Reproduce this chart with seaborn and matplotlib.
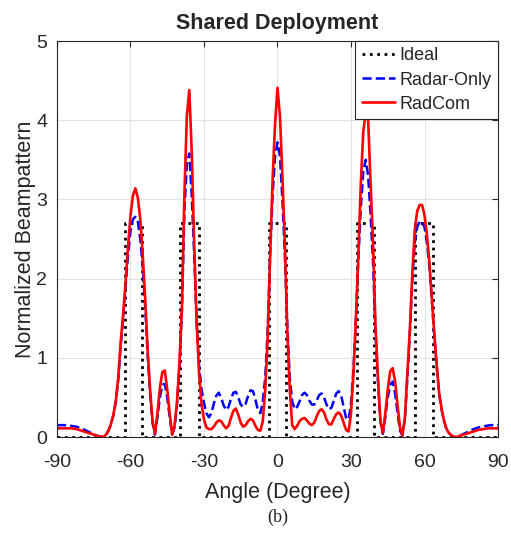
import numpy as np
import pandas as pd
import matplotlib
matplotlib.use('Agg')
import matplotlib.pyplot as plt
import seaborn as sns

# angle grid, 1 degree steps
angle = np.arange(-90, 91)

radcom = [
    0.11, 0.11, 0.11, 0.11, 0.11, 0.11, 0.11, 0.105, 0.10, 0.09,   # -90..-81
    0.08, 0.07, 0.06, 0.05, 0.04, 0.03, 0.02, 0.01, 0.005, 0.0,    # -80..-71
    0.03, 0.08, 0.16, 0.28, 0.45, 0.75, 1.2, 1.55, 1.95, 2.4,      # -70..-61
    2.8, 3.05, 3.14, 3.02, 2.75, 2.3, 1.75, 1.1, 0.6, 0.2,         # -60..-51
    0.04, 0.3, 0.62, 0.82, 0.84, 0.6, 0.3, 0.03, 0.15, 0.45,       # -50..-41
    0.95, 1.65, 3.05, 4.05, 4.38, 3.6, 2.45, 1.45, 0.8, 0.42,      # -40..-31
    0.22, 0.12, 0.10, 0.10, 0.13, 0.18, 0.21, 0.20, 0.15, 0.11,    # -30..-21
    0.14, 0.24, 0.33, 0.36, 0.28, 0.18, 0.13, 0.15, 0.20, 0.23,    # -20..-11
    0.21, 0.14, 0.09, 0.08, 0.2, 0.6, 1.25, 2.3, 3.25, 3.95,       # -10..-1
    4.41, 4.05, 3.3, 2.45, 1.35, 0.6, 0.15, 0.10, 0.14, 0.20,      # 0..9
    0.23, 0.24, 0.21, 0.17, 0.15, 0.18, 0.26, 0.33, 0.35, 0.31,    # 10..19
    0.22, 0.16, 0.16, 0.23, 0.29, 0.31, 0.27, 0.18, 0.09, 0.07,    # 20..29
    0.3, 0.8, 1.5, 2.3, 3.2, 3.85, 4.1, 4.0, 3.2, 2.45,            # 30..39
    1.4, 0.75, 0.2, 0.05, 0.3, 0.6, 0.83, 0.87, 0.7, 0.4,          # 40..49
    0.12, 0.02, 0.25, 0.8, 1.35, 2.05, 2.6, 2.85, 2.93, 2.93,      # 50..59
    2.8, 2.55, 2.2, 1.75, 1.3, 0.9, 0.55, 0.35, 0.2, 0.1,          # 60..69
    0.05, 0.02, 0.0, 0.0, 0.01, 0.02, 0.03, 0.04, 0.05, 0.06,      # 70..79
    0.07, 0.08, 0.09, 0.095, 0.10, 0.105, 0.11, 0.11, 0.11, 0.11,  # 80..89
    0.11,                                                          # 90
]

radar_only = [
    0.15, 0.15, 0.15, 0.15, 0.15, 0.145, 0.14, 0.135, 0.13, 0.12,  # -90..-81
    0.11, 0.095, 0.08, 0.065, 0.05, 0.035, 0.02, 0.01, 0.005, 0.0, # -80..-71
    0.03, 0.08, 0.16, 0.27, 0.44, 0.72, 1.15, 1.5, 1.9, 2.3,       # -70..-61
    2.6, 2.75, 2.78, 2.72, 2.5, 2.15, 1.65, 1.05, 0.55, 0.18,      # -60..-51
    0.03, 0.25, 0.5, 0.66, 0.67, 0.5, 0.25, 0.03, 0.12, 0.42,      # -50..-41
    0.9, 1.6, 2.85, 3.45, 3.58, 3.05, 2.3, 1.45, 0.9, 0.6,         # -40..-31
    0.43, 0.3, 0.25, 0.3, 0.42, 0.52, 0.56, 0.5, 0.4, 0.34,        # -30..-21
    0.38, 0.48, 0.56, 0.57, 0.5, 0.41, 0.38, 0.42, 0.52, 0.59,     # -20..-11
    0.58, 0.47, 0.34, 0.30, 0.45, 0.75, 1.35, 2.3, 3.05, 3.55,     # -10..-1
    3.72, 3.55, 3.0, 2.3, 1.4, 0.75, 0.45, 0.35, 0.38, 0.45,       # 0..9
    0.53, 0.56, 0.53, 0.46, 0.41, 0.41, 0.46, 0.53, 0.55, 0.5,     # 10..19
    0.41, 0.35, 0.37, 0.46, 0.55, 0.58, 0.52, 0.38, 0.24, 0.22,    # 20..29
    0.42, 0.85, 1.5, 2.25, 2.9, 3.35, 3.5, 3.3, 2.8, 2.2,          # 30..39
    1.3, 0.7, 0.2, 0.04, 0.25, 0.5, 0.66, 0.7, 0.55, 0.3,          # 40..49
    0.08, 0.02, 0.23, 0.75, 1.3, 1.95, 2.45, 2.65, 2.72, 2.72,     # 50..59
    2.65, 2.45, 2.15, 1.72, 1.28, 0.88, 0.54, 0.34, 0.2, 0.1,      # 60..69
    0.05, 0.02, 0.0, 0.0, 0.01, 0.025, 0.04, 0.055, 0.07, 0.085,   # 70..79
    0.10, 0.11, 0.12, 0.13, 0.135, 0.14, 0.145, 0.15, 0.15, 0.15,  # 80..89
    0.15,                                                          # 90
]

# ideal beampattern: flat boxes over the target sectors
ideal_lo = [-62.4, -39.7, -3.4, 32.4, 56.2]
ideal_hi = [-55.1, -32.2, 3.4, 39.2, 63.4]
ideal_level = 2.7

ideal_x, ideal_y = [-90], [0]
for lo, hi in zip(ideal_lo, ideal_hi):
    ideal_x += [lo, lo, hi, hi]
    ideal_y += [0, ideal_level, ideal_level, 0]
ideal_x.append(90)
ideal_y.append(0)

sns.set_style('white')
plt.rcParams['font.family'] = ['Liberation Sans', 'DejaVu Sans']
plt.rcParams['axes.unicode_minus'] = False

fig = plt.figure(figsize=(5.11, 5.34), dpi=100)
ax = fig.add_axes([0.1115, 0.1816, 0.8631, 0.7416])

sns.lineplot(x=ideal_x, y=ideal_y, ax=ax, color='black', linestyle=':',
             linewidth=2.0, sort=False, estimator=None, label='Ideal')
sns.lineplot(x=angle, y=radar_only, ax=ax, color='blue', linestyle='--',
             linewidth=1.8, sort=False, estimator=None, label='Radar-Only')
sns.lineplot(x=angle, y=radcom, ax=ax, color='red', linestyle='-',
             linewidth=1.9, sort=False, estimator=None, label='RadCom')

ax.set_xlim(-90, 90)
ax.set_ylim(0, 5)
ax.set_xticks(np.arange(-90, 91, 30))
ax.set_yticks(np.arange(0, 6, 1))
ax.grid(True, color='#e3e3e3', linewidth=0.8)
ax.set_axisbelow(True)
for s in ax.spines.values():
    s.set_color('#262626')
    s.set_linewidth(0.8)
ax.tick_params(direction='in', length=4, width=0.8, colors='#262626',
               labelsize=14, top=True, right=True)
ax.tick_params(axis='x', pad=12)
ax.tick_params(axis='y', pad=7)

ax.set_xlabel('Angle (Degree)', fontsize=15.5, color='#262626', labelpad=8)
ax.set_ylabel('Normalized Beampattern', fontsize=15.5, color='#262626', labelpad=0.5)
ax.set_title('Shared Deployment', fontsize=15.5, fontweight='bold', pad=9)

leg = ax.legend(loc='upper right', borderaxespad=0, fancybox=False,
                framealpha=1, edgecolor='#262626', fontsize=13,
                handlelength=1.85, handletextpad=0.25, borderpad=0.35,
                labelspacing=0.4)
leg.get_frame().set_linewidth(0.8)

fig.text(0.543, 0.032, '(b)', family='Liberation Serif', fontsize=13,
         ha='center', va='center')

fig.savefig('out.png', dpi=100)
